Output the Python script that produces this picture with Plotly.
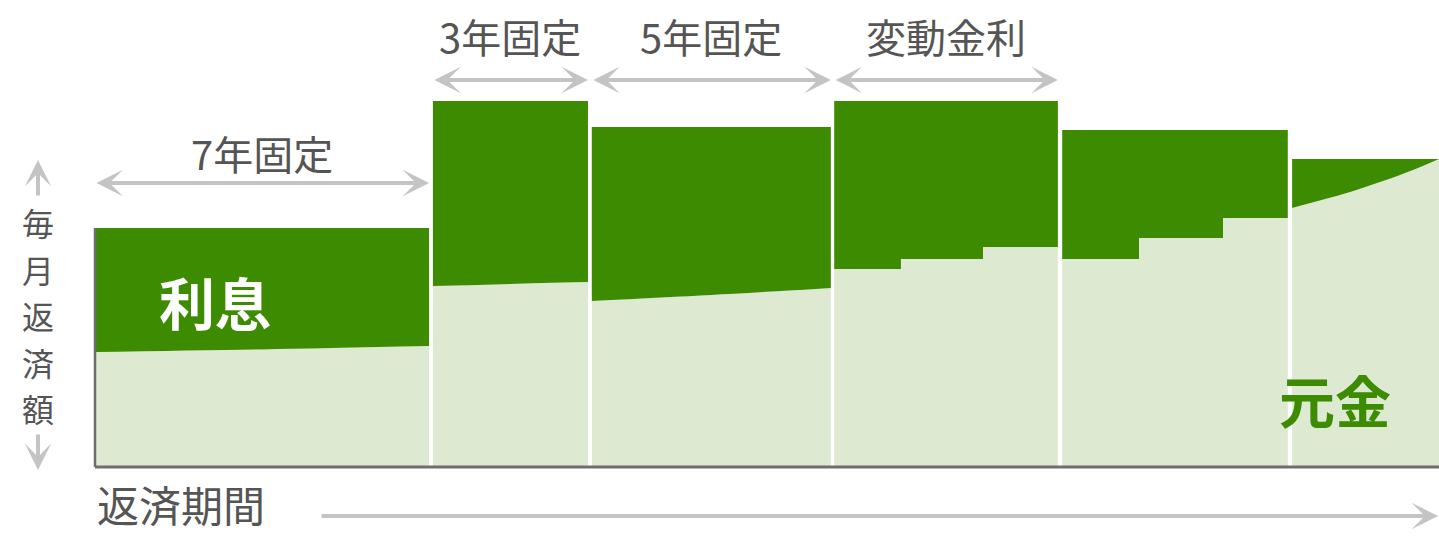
import plotly.graph_objects as go

# ---------------- data ----------------
period_labels = ["7年固定", "3年固定", "5年固定", "変動金利", "", ""]
period_start = [0.00, 7.04, 10.35, 15.40, 20.15, 24.94]   # years
period_end = [6.96, 10.27, 15.33, 20.06, 24.85, 28.00]
monthly_payment = [100.0, 153.1, 142.3, 153.1, 141.0, 128.9]

principal_x = [
    [0.00, 3.48, 6.96],
    [7.04, 8.65, 10.27],
    [10.35, 12.84, 15.33],
    [15.40, 16.79, 18.50, 20.06],
    [20.15, 21.75, 23.50, 24.85],
    [24.94, 26.08, 26.77, 27.46, 28.00],
]
principal_y = [
    [48.1, 49.2, 50.6],
    [75.7, 76.6, 77.4],
    [69.5, 72.0, 74.9],
    [82.8, 87.0, 92.1, 92.1],
    [87.0, 95.8, 104.2, 104.2],
    [108.4, 114.6, 119.2, 124.3, 128.9],
]

y_label = "毎月返済額"
x_label = "返済期間"
interest_label = "利息"
principal_label = "元金"

# ---------------- styles / layout ----------------
line_shapes = ["spline", "spline", "spline", "hv", "hv", "spline"]
DARK = "#3d8b00"
LIGHT = "#dde9d1"
GRAY_TEXT = "#555555"
ARROW = "#c4c4c4"
AXIS = "#6e6e6e"
FONT = "Noto Sans CJK JP"

W, H = 1439, 537
OX, OY = 95, 467          # pixel origin of the plot
PXX, PXY = 48.0, 2.39     # pixels per year / per unit


def px_x(p):
    return (p - OX) / PXX


def px_y(p):
    return (OY - p) / PXY


fig = go.Figure()

for i in range(len(period_start)):
    xs = principal_x[i]
    fig.add_trace(go.Scatter(
        x=xs, y=principal_y[i], mode="lines",
        line=dict(width=0, shape=line_shapes[i], color=LIGHT),
        fill="tozeroy", fillcolor=LIGHT, hoverinfo="skip", showlegend=False))
    fig.add_trace(go.Scatter(
        x=xs, y=[monthly_payment[i]] * len(xs), mode="lines",
        line=dict(width=0, shape=line_shapes[i], color=DARK),
        fill="tonexty", fillcolor=DARK, hoverinfo="skip", showlegend=False))

annotations = []
arrow_common = dict(xref="x", yref="y", axref="x", ayref="y", text="",
                    showarrow=True, arrowcolor=ARROW, arrowwidth=4,
                    arrowhead=3, arrowsize=1.1, standoff=0)

# period arrows + labels
for i, lab in enumerate(period_labels):
    if not lab:
        continue
    ay_px = 183 if i == 0 else 80
    ty_px = 153 if i == 0 else 36
    yy = px_y(ay_px)
    annotations.append(dict(arrow_common, x=period_end[i], y=yy,
                            ax=period_start[i], ay=yy,
                            arrowside="end+start", startarrowhead=3,
                            startarrowsize=1.1, startstandoff=0))
    annotations.append(dict(xref="x", yref="y", showarrow=False, text=lab,
                            x=(period_start[i] + period_end[i]) / 2,
                            y=px_y(ty_px),
                            font=dict(family=FONT, size=40, color=GRAY_TEXT)))

# vertical y label (stacked characters)
for k, ch in enumerate(y_label):
    annotations.append(dict(xref="x", yref="y", showarrow=False, text=ch,
                            x=px_x(38), y=px_y(222 + 46.5 * k),
                            font=dict(family=FONT, size=32, color=GRAY_TEXT)))
annotations.append(dict(arrow_common, x=px_x(38), y=px_y(160),
                        ax=px_x(38), ay=px_y(197)))
annotations.append(dict(arrow_common, x=px_x(38), y=px_y(470),
                        ax=px_x(38), ay=px_y(433)))

# x label + arrow
annotations.append(dict(xref="x", yref="y", showarrow=False, text=x_label,
                        x=period_start[0], y=px_y(536), xanchor="left",
                        yanchor="bottom",
                        font=dict(family=FONT, size=42, color=GRAY_TEXT)))
annotations.append(dict(arrow_common, x=period_end[-1] - 0.02, y=px_y(516),
                        ax=px_x(320), ay=px_y(516)))

# area labels
annotations.append(dict(xref="x", yref="y", showarrow=False, text=interest_label,
                        x=px_x(215), y=px_y(300),
                        font=dict(family=FONT, size=56, color="white", weight=700)))
annotations.append(dict(xref="x", yref="y", showarrow=False, text=principal_label,
                        x=px_x(1335), y=px_y(398),
                        font=dict(family=FONT, size=56, color=DARK, weight=700)))

shapes = [
    dict(type="line", xref="x", yref="y", x0=period_start[0], x1=period_end[-1],
         y0=0, y1=0, line=dict(color=AXIS, width=3)),
    dict(type="line", xref="x", yref="y", x0=period_start[0], x1=period_start[0],
         y0=0, y1=monthly_payment[0], line=dict(color=AXIS, width=2.5)),
]

fig.update_layout(
    width=W, height=H,
    margin=dict(l=0, r=0, t=0, b=0),
    paper_bgcolor="white", plot_bgcolor="white",
    xaxis=dict(range=[px_x(0), px_x(W)], visible=False, fixedrange=True),
    yaxis=dict(range=[px_y(H), px_y(0)], visible=False, fixedrange=True),
    annotations=annotations,
    shapes=shapes,
    showlegend=False,
)

fig.write_html("out.html", config={"displayModeBar": False},
               post_script="document.body.style.margin='0px';"
                           "document.body.style.overflow='hidden';")
